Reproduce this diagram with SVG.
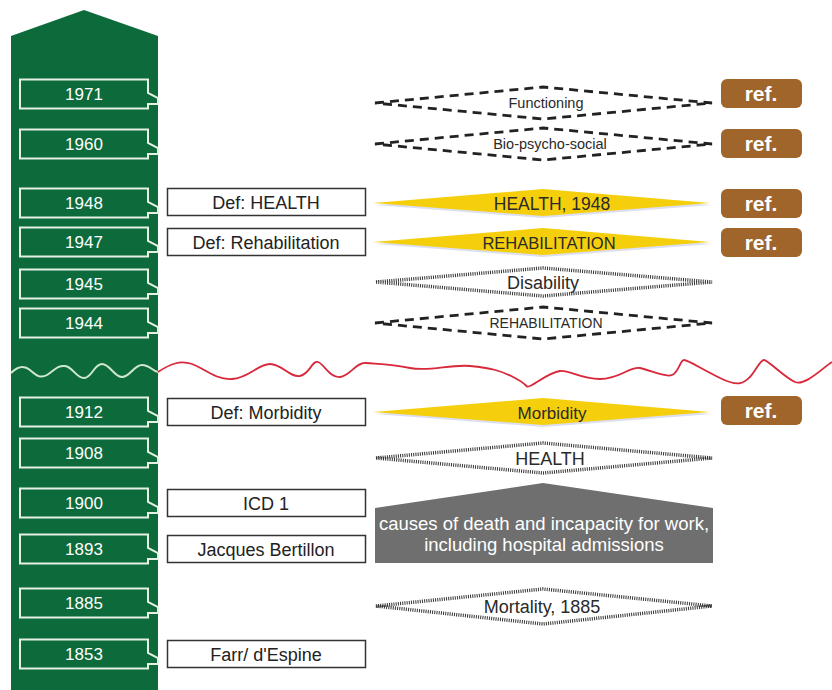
<svg xmlns="http://www.w3.org/2000/svg" width="832" height="690" viewBox="0 0 832 690">
  <defs>
    <style>
      .yr { fill: #0d6b3b; stroke: #e6f0e4; stroke-width: 2; stroke-linejoin: miter; }
      .yrt { font-family: "Liberation Sans", Arial, sans-serif; font-size: 17px; fill: #ffffff; text-anchor: middle; }
      .def { fill: #ffffff; stroke: #333333; stroke-width: 1.5; }
      .deft { font-family: "Liberation Sans", Arial, sans-serif; font-size: 18px; fill: #222222; text-anchor: middle; }
      .ref { fill: #a0652b; }
      .reft { font-family: "Liberation Sans", Arial, sans-serif; font-size: 21px; font-weight: bold; fill: #ffffff; text-anchor: middle; }
      .gold { fill: #f6cf0c; }
      .dash { fill: none; stroke: #222222; stroke-width: 2.8; stroke-dasharray: 9 6; }
      .dot { fill: none; stroke: #333333; stroke-width: 3.5; stroke-dasharray: 1 1.2; }
      .lbl { font-family: "Liberation Sans", Arial, sans-serif; fill: #2a2a2a; text-anchor: middle; }
      .lblw { font-family: "Liberation Sans", Arial, sans-serif; fill: #ffffff; text-anchor: middle; }
    </style>
  </defs>

  <rect width="832" height="690" fill="#ffffff"/>

  <!-- timeline column with arrow head -->
  <g id="timeline">
    <polygon points="11,36 84,10 158,36 158,690 11,690" fill="#0d6b3b"/>
    <path d="M11,373 C18,366 24,365 30,370 S40,379 47,375 S57,365 65,366 S76,378 84,378 S94,364 102,364 S114,377 122,377 S134,365 142,365 S152,371 158,372" fill="none" stroke="#cfe8cc" stroke-width="2"/>
  </g>

  <!-- break in the time axis -->
  <g id="connectors">
    <path d="M158,372 C170,364 180,360 192,364 S215,380 232,379 S258,364 270,364 S290,378 300,376 S312,360 318,362 S330,378 340,377 S356,362 366,363 S390,364 410,368 S450,364 470,366 S500,370 515,378 S525,388 530,386 S550,372 560,371 S580,379 600,379 S630,366 640,368 S665,378 672,375 S680,360 684,360 S700,368 720,378 S745,382 750,377 S760,360 764,360 S785,378 795,382 S820,370 832,362" fill="none" stroke="#d8283a" stroke-width="1.8"/>
  </g>

  <!-- year markers -->
  <g id="y1971"><polygon class="yr" points="20,79.5 148,79.5 148,93 158,98 158,104 148,104 148,108.5 20,108.5"/><text class="yrt" x="84" y="100">1971</text></g>
  <g id="y1960"><polygon class="yr" points="20,129.5 148,129.5 148,143 158,148 158,154 148,154 148,158.5 20,158.5"/><text class="yrt" x="84" y="150">1960</text></g>
  <g id="y1948"><polygon class="yr" points="20,188.5 148,188.5 148,202 158,207 158,213 148,213 148,217.5 20,217.5"/><text class="yrt" x="84" y="209">1948</text></g>
  <g id="y1947"><polygon class="yr" points="20,227.5 148,227.5 148,241 158,246 158,252 148,252 148,256.5 20,256.5"/><text class="yrt" x="84" y="248">1947</text></g>
  <g id="y1945"><polygon class="yr" points="20,269.5 148,269.5 148,283 158,288 158,294 148,294 148,298.5 20,298.5"/><text class="yrt" x="84" y="290">1945</text></g>
  <g id="y1944"><polygon class="yr" points="20,308.5 148,308.5 148,322 158,327 158,333 148,333 148,337.5 20,337.5"/><text class="yrt" x="84" y="329">1944</text></g>
  <g id="y1912"><polygon class="yr" points="20,397.5 148,397.5 148,411 158,416 158,422 148,422 148,426.5 20,426.5"/><text class="yrt" x="84" y="418">1912</text></g>
  <g id="y1908"><polygon class="yr" points="20,438.5 148,438.5 148,452 158,457 158,463 148,463 148,467.5 20,467.5"/><text class="yrt" x="84" y="459">1908</text></g>
  <g id="y1900"><polygon class="yr" points="20,488.5 148,488.5 148,502 158,507 158,513 148,513 148,517.5 20,517.5"/><text class="yrt" x="84" y="509">1900</text></g>
  <g id="y1893"><polygon class="yr" points="20,534.5 148,534.5 148,548 158,553 158,559 148,559 148,563.5 20,563.5"/><text class="yrt" x="84" y="555">1893</text></g>
  <g id="y1885"><polygon class="yr" points="20,588.5 148,588.5 148,602 158,607 158,613 148,613 148,617.5 20,617.5"/><text class="yrt" x="84" y="609">1885</text></g>
  <g id="y1853"><polygon class="yr" points="20,639.5 148,639.5 148,653 158,658 158,664 148,664 148,668.5 20,668.5"/><text class="yrt" x="84" y="660">1853</text></g>

  <!-- definition boxes -->
  <g id="def-health"><rect class="def" x="167.5" y="188.5" width="198" height="27"/><text class="deft" x="266" y="208.5">Def: HEALTH</text></g>
  <g id="def-rehab"><rect class="def" x="167.5" y="228.5" width="198" height="27"/><text class="deft" x="266" y="248.5">Def: Rehabilitation</text></g>
  <g id="def-morbidity"><rect class="def" x="167.5" y="398.5" width="198" height="27"/><text class="deft" x="266" y="418.5">Def: Morbidity</text></g>
  <g id="icd1"><rect class="def" x="167.5" y="489.5" width="198" height="27"/><text class="deft" x="266" y="509.5">ICD 1</text></g>
  <g id="bertillon"><rect class="def" x="167.5" y="535.5" width="198" height="27"/><text class="deft" x="266" y="555.5">Jacques Bertillon</text></g>
  <g id="farr"><rect class="def" x="167.5" y="640.5" width="198" height="27"/><text class="deft" x="266" y="660.5">Farr/ d'Espine</text></g>

  <!-- concept shapes -->
  <g id="functioning">
    <polygon class="dash" points="375,103 543,87 712,103 543,119"/>
    <text class="lbl" x="546" y="108" font-size="14.5">Functioning</text>
  </g>
  <g id="biopsychosocial">
    <polygon class="dash" points="375,144 543,128 712,144 543,160"/>
    <text class="lbl" x="550" y="149" font-size="14.5">Bio-psycho-social</text>
  </g>
  <g id="health1948">
    <polygon points="375,205 543,193 712,205 543,218" fill="#b8c0e0" opacity="0.5"/>
    <polygon class="gold" points="373,203 543,189 710,203 543,216"/>
    <text class="lbl" x="552" y="209.5" font-size="17.5">HEALTH, 1948</text>
  </g>
  <g id="rehab1947">
    <polygon points="375,244 543,232 712,244 543,257" fill="#b8c0e0" opacity="0.5"/>
    <polygon class="gold" points="373,242 543,228 710,242 543,255"/>
    <text class="lbl" x="549" y="248.5" font-size="16.5">REHABILITATION</text>
  </g>
  <g id="disability">
    <polygon class="dot" points="376,282 543,268 712,282 543,296"/>
    <text class="lbl" x="543" y="289" font-size="18">Disability</text>
  </g>
  <g id="rehab1944">
    <polygon class="dash" points="375,323 543,307 712,323 543,339"/>
    <text class="lbl" x="546" y="328" font-size="14">REHABILITATION</text>
  </g>
  <g id="morbidity">
    <polygon points="375,414 543,402 712,414 543,427" fill="#b8c0e0" opacity="0.5"/>
    <polygon class="gold" points="373,412 543,398 710,412 543,425"/>
    <text class="lbl" x="552" y="418.5" font-size="17">Morbidity</text>
  </g>
  <g id="health1908">
    <polygon class="dot" points="376,458 543,443 712,458 543,473"/>
    <text class="lbl" x="550" y="465" font-size="18">HEALTH</text>
  </g>
  <g id="causes">
    <polygon points="375,508 543,483 713,508 713,563 375,563" fill="#6f6f6f"/>
    <text class="lblw" x="544" y="530" font-size="18.5">causes of death and incapacity for work,</text>
    <text class="lblw" x="544" y="551" font-size="18.5">including hospital admissions</text>
  </g>
  <g id="mortality">
    <polygon class="dot" points="376,606 543,589 712,606 543,624"/>
    <text class="lbl" x="542" y="613" font-size="18">Mortality, 1885</text>
  </g>

  <!-- reference tags -->
  <g id="ref1971"><rect class="ref" x="721" y="79" width="81" height="29" rx="6"/><text class="reft" x="761" y="101">ref.</text></g>
  <g id="ref1960"><rect class="ref" x="721" y="129" width="81" height="29" rx="6"/><text class="reft" x="761" y="151">ref.</text></g>
  <g id="ref1948"><rect class="ref" x="721" y="189" width="81" height="29" rx="6"/><text class="reft" x="761" y="211">ref.</text></g>
  <g id="ref1947"><rect class="ref" x="721" y="228" width="81" height="29" rx="6"/><text class="reft" x="761" y="250">ref.</text></g>
  <g id="ref1912"><rect class="ref" x="721" y="396" width="81" height="29" rx="6"/><text class="reft" x="761" y="418">ref.</text></g>
</svg>
